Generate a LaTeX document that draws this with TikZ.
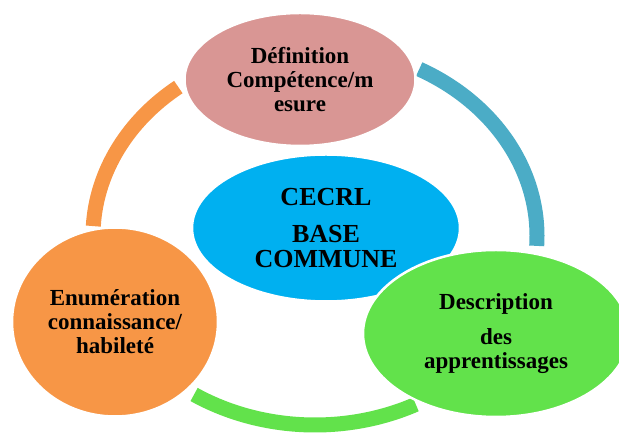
\documentclass[tikz,border=0pt]{standalone}
\usepackage{fontspec}
\setmainfont{Liberation Serif}
\usetikzlibrary{shapes.geometric}

\definecolor{rosy}{HTML}{D99694}
\definecolor{sky}{HTML}{00B0F0}
\definecolor{tangerine}{HTML}{F79646}
\definecolor{lime}{HTML}{62E24B}
\definecolor{teal}{HTML}{4BACC6}

\begin{document}
\begin{tikzpicture}[x=1pt, y=1pt]
  \tikzstyle{bubble}=[ellipse, draw=white, line width=2.5pt, inner sep=0pt, align=center, font=\fontsize{23}{24}\selectfont\bfseries]
  \tikzstyle{seg}=[line width=15pt]

  \useasboundingbox (0,0) rectangle (619,433);
  \clip (0,0) rectangle (619,433);

  % ring behind the bubbles
  \coordinate (ring) at (315,197);
  \draw[seg, teal] ([shift={(62:222pt and 189pt)}]ring) arc[start angle=62, end angle=-3, x radius=222pt, y radius=189pt];
  \draw[seg, tangerine] ([shift={(128:222pt and 189pt)}]ring) arc[start angle=128, end angle=177, x radius=222pt, y radius=189pt];
  \draw[seg, lime] ([shift={(237:222pt and 189pt)}]ring) arc[start angle=237, end angle=297, x radius=222pt, y radius=189pt];

  \node[bubble, fill=rosy, minimum width=231pt, minimum height=133pt] (def) at (300,353.5) {Définition\\Compétence/m\\esure};
  \node[bubble, fill=sky, minimum width=268pt, minimum height=147pt, font=\fontsize{26}{25}\selectfont\bfseries] (cecrl) at (326,205) {CECRL\\[12pt]BASE\\COMMUNE};
  \node[bubble, fill=tangerine, minimum width=206pt, minimum height=189pt] (enum) at (115,111) {Enumération\\connaissance/\\habileté};
  \node[bubble, fill=lime, minimum width=266pt, minimum height=167pt] (desc) at (496,99.5) {Description\\[11pt]des\\apprentissages};
\end{tikzpicture}
\end{document}
